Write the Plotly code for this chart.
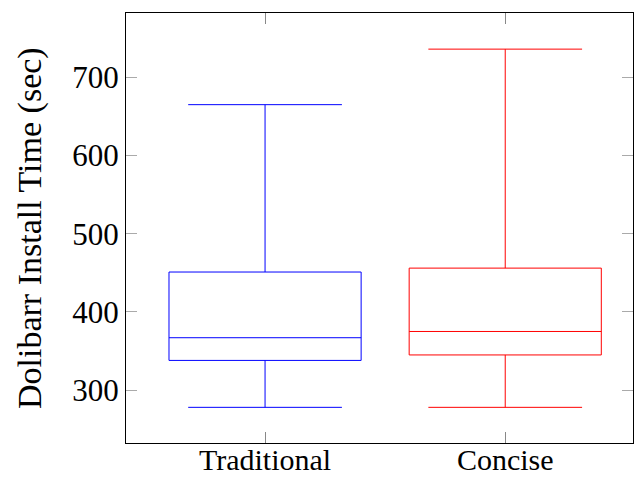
import plotly.graph_objects as go

# Install-time distribution per documentation style
categories = ["Traditional", "Concise"]
positions = [1, 2]
lower_whisker = [278, 278]
lower_quartile = [338, 345]
median = [367, 375]
upper_quartile = [451, 456]
upper_whisker = [665, 736]
colors = ["#0000ff", "#ff0000"]

y_ticks = [300, 400, 500, 600, 700]
y_title = "Dolibarr Install Time (sec)"

fig = go.Figure()
for i, name in enumerate(categories):
    fig.add_trace(go.Box(
        x=[positions[i]],
        q1=[lower_quartile[i]],
        median=[median[i]],
        q3=[upper_quartile[i]],
        lowerfence=[lower_whisker[i]],
        upperfence=[upper_whisker[i]],
        name=name,
        width=0.8,
        whiskerwidth=0.8,
        boxpoints=False,
        line=dict(color=colors[i], width=1),
        fillcolor="rgba(0,0,0,0)",
        hoverinfo="skip",
    ))

font_family = "Liberation Serif, DejaVu Serif, serif"
fig.update_layout(
    width=634,
    height=479,
    margin=dict(l=126, r=1, t=13, b=36),
    paper_bgcolor="white",
    plot_bgcolor="white",
    showlegend=False,
    font=dict(family=font_family, size=30, color="black"),
    xaxis=dict(
        range=[0.421, 2.532],
        tickvals=positions,
        ticktext=categories,
        ticks="inside",
        ticklen=11,
        tickwidth=1,
        tickcolor="#888888",
        showline=True,
        linecolor="black",
        linewidth=1,
        mirror="ticks",
        showgrid=False,
        zeroline=False,
        automargin=False,
        ticklabelstandoff=-10,
        tickfont=dict(size=30),
    ),
    yaxis=dict(
        range=[232.4, 782.2],
        tickvals=y_ticks,
        ticks="inside",
        ticklen=11,
        tickwidth=1,
        tickcolor="#aaaaaa",
        showline=True,
        linecolor="black",
        linewidth=1,
        mirror="ticks",
        showgrid=False,
        zeroline=False,
        automargin=False,
        tickfont=dict(size=31),
    ),
)

# Axis title placed as a rotated annotation left of the tick labels
fig.add_annotation(
    text=y_title,
    textangle=-90,
    xref="paper", yref="paper",
    x=0, y=0.5,
    xanchor="center", yanchor="middle",
    xshift=-96,
    showarrow=False,
    font=dict(size=34, family=font_family, color="black"),
)

fig.write_html("out.html")
